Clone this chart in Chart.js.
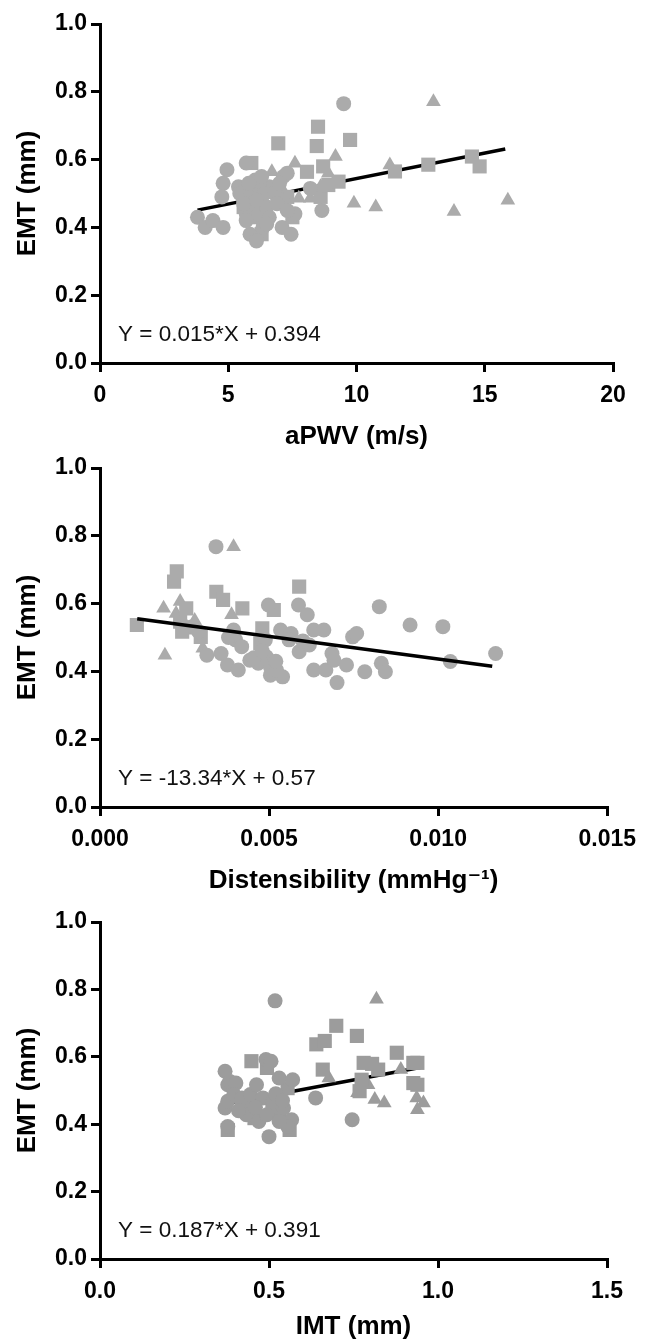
<!DOCTYPE html>
<html lang="en">
<head>
  <meta charset="UTF-8" />
  <title>EMT scatter plots</title>
  <script src="https://cdn.jsdelivr.net/npm/chart.js"></script>
  <style>
    body { margin: 0; background: #fff; overflow: hidden; width: 646px; height: 1341px; position: relative; }
    .panel { position: absolute; left: 0; width: 646px; height: 460px; }
  </style>
</head>
<body>
  <div class="panel" style="top:0px"><canvas id="pwvChart" width="646" height="460"></canvas></div>
  <div class="panel" style="top:444px"><canvas id="distChart" width="646" height="460"></canvas></div>
  <div class="panel" style="top:898px"><canvas id="imtChart" width="646" height="460"></canvas></div>

  <script>
    // --- panel 1: aPWV (m/s) vs EMT (mm)
    const pwvCircles = [[3.8,0.43],[4.1,0.40],[4.4,0.42],[4.8,0.40],[4.95,0.57],[4.8,0.53],[4.75,0.49],[5.4,0.52],[5.45,0.50],
      [5.7,0.59],[6.05,0.54],[5.7,0.44],[5.7,0.42],[5.85,0.38],[6.1,0.36],[6.35,0.40],[6.3,0.48],[6.6,0.52],[7.15,0.55],
      [7.1,0.48],[7.3,0.56],[7.1,0.40],[7.45,0.38],[7.6,0.44],[8.2,0.515],[8.65,0.45],[9.5,0.765],[5.9,0.50],[6.0,0.46],
      [6.2,0.52],[6.2,0.44],[6.4,0.50],[6.5,0.46],[6.6,0.43],[6.8,0.50],[6.9,0.47],[7.0,0.53],[5.6,0.47],[6.1,0.48],
      [6.5,0.41],[7.3,0.45],[5.8,0.53],[6.3,0.55]];
    const pwvSquares = [[5.9,0.59],[6.95,0.648],[8.45,0.64],[8.5,0.697],[9.75,0.658],[8.07,0.564],[8.7,0.58],[8.6,0.49],
      [8.9,0.525],[9.3,0.535],[11.5,0.565],[12.8,0.585],[14.5,0.609],[14.8,0.58],[6.0,0.43],[6.3,0.38],[5.6,0.46],
      [7.3,0.49],[6.7,0.51],[7.5,0.43]];
    const pwvTriangles = [[6.7,0.564],[7.6,0.589],[7.75,0.486],[8.2,0.486],[8.9,0.56],[9.18,0.609],[9.9,0.471],
      [10.75,0.46],[11.3,0.584],[13.0,0.771],[13.8,0.447],[15.9,0.48],[7.2,0.50],[8.6,0.52]];

    // --- panel 2: distensibility (mmHg-1) vs EMT (mm)
    const distCircles = [[0.00273,0.532],[0.00292,0.517],[0.00316,0.448],[0.00343,0.768],[0.00358,0.453],[0.00377,0.419],
      [0.00395,0.522],[0.00401,0.493],[0.00419,0.473],[0.00409,0.404],[0.00443,0.433],[0.00468,0.424],[0.00498,0.596],
      [0.00489,0.493],[0.00492,0.443],[0.00504,0.414],[0.00504,0.389],[0.0054,0.384],[0.00522,0.404],[0.00534,0.522],
      [0.00565,0.512],[0.00559,0.493],[0.00589,0.458],[0.00587,0.596],[0.00613,0.567],[0.00619,0.478],[0.00632,0.522],
      [0.00662,0.522],[0.00632,0.404],[0.00668,0.404],[0.00686,0.453],[0.00692,0.433],[0.00701,0.367],[0.00729,0.419],
      [0.00747,0.502],[0.00759,0.512],[0.00783,0.399],[0.00826,0.591],[0.00832,0.424],[0.00844,0.399],[0.00917,0.537],
      [0.01014,0.532],[0.01036,0.429],[0.0117,0.453],[0.00455,0.44],[0.0048,0.46],[0.0052,0.43],[0.0060,0.49],[0.0038,0.50]];
    const distSquares = [[0.00109,0.537],[0.00219,0.665],[0.00227,0.695],[0.00237,0.547],[0.00243,0.517],[0.00255,0.586],
      [0.00298,0.502],[0.00344,0.635],[0.00364,0.611],[0.00421,0.586],[0.00474,0.483],[0.0048,0.527],[0.00514,0.581],
      [0.00589,0.65],[0.0026,0.53]];
    const distTriangles = [[0.00188,0.586],[0.00192,0.448],[0.00237,0.606],[0.00225,0.571],[0.00304,0.468],
      [0.00395,0.768],[0.00389,0.567],[0.0028,0.55],[0.0024,0.56]];

    // --- panel 3: IMT (mm) vs EMT (mm)
    const imtCircles = [[0.37,0.557],[0.378,0.517],[0.384,0.527],[0.37,0.448],[0.378,0.468],[0.378,0.393],[0.402,0.522],
      [0.396,0.488],[0.42,0.478],[0.433,0.428],[0.445,0.488],[0.463,0.517],[0.47,0.408],[0.482,0.478],[0.491,0.592],
      [0.506,0.587],[0.494,0.428],[0.5,0.363],[0.518,0.766],[0.512,0.468],[0.53,0.537],[0.543,0.448],[0.57,0.532],
      [0.567,0.413],[0.555,0.393],[0.53,0.408],[0.638,0.478],[0.746,0.413],[0.46,0.45],[0.52,0.49],[0.54,0.47],[0.41,0.44]];
    const imtSquares = [[0.378,0.383],[0.42,0.448],[0.448,0.587],[0.457,0.418],[0.494,0.567],[0.53,0.428],[0.555,0.507],
      [0.561,0.383],[0.64,0.637],[0.665,0.647],[0.659,0.562],[0.699,0.692],[0.76,0.662],[0.78,0.582],[0.805,0.579],
      [0.823,0.562],[0.774,0.532],[0.768,0.498],[0.878,0.612],[0.927,0.582],[0.939,0.582],[0.927,0.522],[0.939,0.517],
      [0.44,0.46],[0.51,0.45]];
    const imtTriangles = [[0.677,0.537],[0.818,0.771],[0.762,0.493],[0.793,0.517],[0.813,0.473],[0.841,0.463],
      [0.89,0.562],[0.937,0.478],[0.939,0.443],[0.957,0.463]];

    // regression lines (slope, intercept, x range) and labels
    const fitSlopes = [0.015, -13.34, 0.187];
    const fitIntercepts = [0.394, 0.57, 0.391];
    const fitRanges = [[3.8, 15.8], [0.0011, 0.0116], [0.37, 0.955]];
    const equations = ['Y = 0.015*X + 0.394', 'Y = -13.34*X + 0.57', 'Y = 0.187*X + 0.391'];
    const xTitles = ['aPWV (m/s)', 'Distensibility (mmHg\u207B\u00B9)', 'IMT (mm)'];
    const yTitle = 'EMT (mm)';
    const xMax = [20, 0.015, 1.5];
    const xSteps = [5, 0.005, 0.5];
    const xDecimals = [0, 3, 1];

    const FONT = "'Liberation Sans', Arial, 'DejaVu Sans', sans-serif";

    const eqPlugin = {
      id: 'eqLabel',
      afterDraw(chart, args, opts) {
        const { ctx, chartArea } = chart;
        ctx.save();
        ctx.font = '22.5px ' + FONT;
        ctx.fillStyle = '#111';
        ctx.textBaseline = 'alphabetic';
        ctx.fillText(opts.text, chartArea.left + 18, chartArea.bottom - 22);
        ctx.restore();
      }
    };

    const toPts = arr => arr.map(p => ({ x: p[0], y: p[1] }));

    function buildPanel(id, i, circles, squares, triangles, cfg) {
      const [x0, x1] = fitRanges[i];
      const line = [x0, x1].map(x => ({ x: x, y: fitSlopes[i] * x + fitIntercepts[i] }));
      const tickFont = { family: FONT, size: 23, weight: 'bold' };
      const titleFont = { family: FONT, size: 26, weight: 'bold' };
      const marker = { backgroundColor: cfg.color, borderWidth: 0, pointHoverRadius: 0 };
      new Chart(document.getElementById(id), {
        type: 'scatter',
        data: {
          datasets: [
            { data: toPts(circles), pointStyle: 'circle', pointRadius: 7.5, ...marker },
            { data: toPts(squares), pointStyle: 'rect', pointRadius: 10, ...marker },
            { data: toPts(triangles), pointStyle: 'triangle', pointRadius: 8.5, ...marker },
            { type: 'line', data: line, borderColor: '#000', borderWidth: 3.5, pointRadius: 0,
              fill: false, order: cfg.lineOnTop ? -1 : 5 }
          ]
        },
        options: {
          responsive: false,
          animation: false,
          events: [],
          layout: { padding: { top: 24, right: cfg.right, left: 0, bottom: 0 } },
          plugins: { legend: { display: false }, tooltip: { enabled: false }, eqLabel: { text: equations[i] } },
          scales: {
            x: {
              type: 'linear', min: 0, max: xMax[i],
              ticks: { stepSize: xSteps[i], autoSkip: false, maxRotation: 0, color: '#000', font: tickFont, padding: 10,
                callback: v => Number(v).toFixed(xDecimals[i]) },
              grid: { drawOnChartArea: false, color: '#000', lineWidth: 3, tickLength: 9 },
              border: { color: '#000', width: 3 },
              title: { display: true, text: xTitles[i], color: '#000', font: titleFont,
                padding: { top: 0, bottom: cfg.titlePad } },
              afterFit: s => { s.height = 460 - 24 - cfg.plotH; }
            },
            y: {
              type: 'linear', min: 0, max: 1,
              ticks: { stepSize: 0.2, color: '#000', font: tickFont, padding: 4,
                callback: v => Number(v).toFixed(1) },
              grid: { drawOnChartArea: false, color: '#000', lineWidth: 3, tickLength: 9 },
              border: { color: '#000', width: 3 },
              title: { display: true, text: yTitle, color: '#000', font: titleFont, padding: { top: 12, bottom: 0 } },
              afterFit: s => { s.width = 100; }
            }
          }
        },
        plugins: [eqPlugin]
      });
    }

    buildPanel('pwvChart', 0, pwvCircles, pwvSquares, pwvTriangles,
      { color: '#ababab', right: 33, plotH: 339, titlePad: 8, lineOnTop: false });
    buildPanel('distChart', 1, distCircles, distSquares, distTriangles,
      { color: '#ababab', right: 37, plotH: 339, titlePad: 8, lineOnTop: true });
    buildPanel('imtChart', 2, imtCircles, imtSquares, imtTriangles,
      { color: '#9c9c9c', right: 39, plotH: 337, titlePad: 16, lineOnTop: false });
  </script>
</body>
</html>
